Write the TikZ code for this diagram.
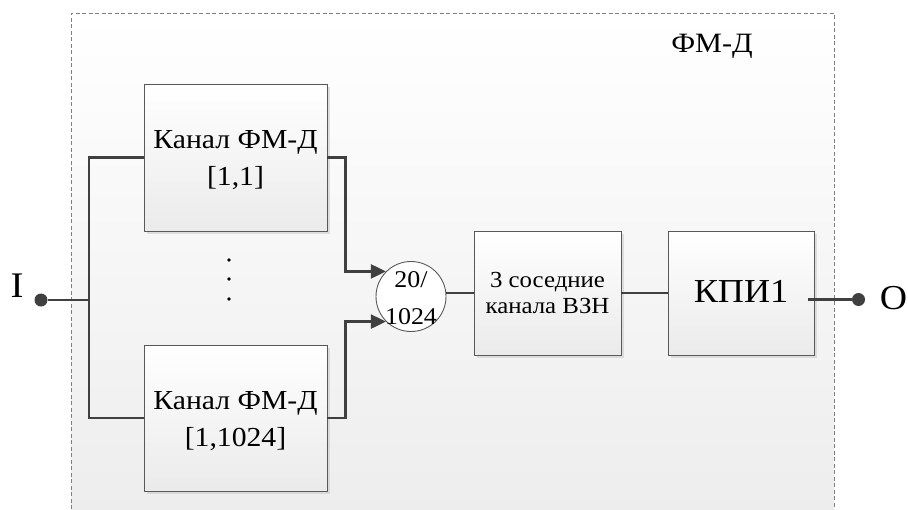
\documentclass[tikz,border=0pt]{standalone}
\usepackage{fontspec}
\setmainfont{Liberation Serif}[FakeStretch=1.08]
\usetikzlibrary{arrows.meta,shadows}
\tikzset{
  blockbox/.style={draw=black!65, line width=0.9pt, top color=white, bottom color=black!8,
    inner sep=0pt,
    drop shadow={shadow xshift=2.5pt, shadow yshift=-2.5pt, fill=black!20, opacity=0.6}},
  boxtext/.style={align=center, inner sep=0pt},
  sumnode/.style={circle, draw=black!65, line width=0.9pt, fill=white, minimum size=70pt,
    inner sep=0pt},
  wire/.style={draw=black!75, line width=2.2pt},
  arrowwire/.style={wire, -{Triangle[length=15pt,width=14pt]}},
  term/.style={circle, fill=black!75, minimum size=13pt, inner sep=0pt},
  frame/.style={draw=black!50, line width=0.9pt, dash pattern=on 4pt off 2.5pt},
  dotmark/.style={circle, fill=black, minimum size=3.6pt, inner sep=0pt},
}
\begin{document}
\begin{tikzpicture}[x=1pt,y=-1pt]
\useasboundingbox (0,0) rectangle (908,509);
\shade[top color=white, bottom color=black!7] (71,13) rectangle (834,509);
\draw[frame] (71,509) -- (71,13) -- (834,13) -- (834,509);

\node[font=\fontsize{28}{32}\selectfont, anchor=base] (title) at (712,52) {ФМ-Д};

\node[blockbox, minimum width=183pt, minimum height=147pt] (b1) at (235.5,157.5) {};
\node[boxtext, font=\fontsize{27.5}{37}\selectfont] (b1t) at ([yshift=-3pt]b1.center) {Канал ФМ-Д\\{[1,1]}};
\node[blockbox, minimum width=183pt, minimum height=146pt] (b2) at (235.5,418) {};
\node[boxtext, font=\fontsize{27.5}{37}\selectfont] (b2t) at ([yshift=-3pt]b2.center) {Канал ФМ-Д\\{[1,1024]}};

\node[dotmark] (d1) at (229,260) {};
\node[dotmark] (d2) at (229,279) {};
\node[dotmark] (d3) at (229,299) {};

\node[sumnode] (c) at (411,296.5) {};
\node[boxtext, font=\fontsize{24}{37}\selectfont] (ct) at ([yshift=-1.5pt]c.center) {20/\\1024};

\node[blockbox, minimum width=147pt, minimum height=124pt] (b3) at (547.5,293) {};
\node[boxtext, font=\fontsize{23}{26}\selectfont] (b3t) at (b3.center) {3 соседние\\канала ВЗН};
\node[blockbox, minimum width=146pt, minimum height=124pt] (b4) at (741,293) {};
\node[boxtext, font=\fontsize{33.5}{38}\selectfont] (b4t) at ([yshift=2pt]b4.center) {КПИ1};

\node[term] (in) at (41,300) {};
\node[font=\fontsize{36}{40}\selectfont, anchor=base] (inl) at (17,297) {I};
\node[term] (out) at (858.5,299.5) {};
\node[font=\fontsize{35}{40}\selectfont, anchor=base] (outl) at (893.5,309) {O};

\coordinate (br) at (89,300);
\draw[wire] (in) -- (br);
\draw[wire] (b1.west) -| (br) |- (b2.west);
\draw[arrowwire] (b1.east) -- ++(18,0) |- (c.135);
\draw[arrowwire] (b2.east) -- ++(18,0) |- (c.225);
\draw[wire] (c.east |- b3.west) -- (b3.west);
\draw[wire] (b3.east) -- (b4.west);
\draw[wire] ([xshift=-6pt]b4.east |- out) -- (out);
\end{tikzpicture}
\end{document}
